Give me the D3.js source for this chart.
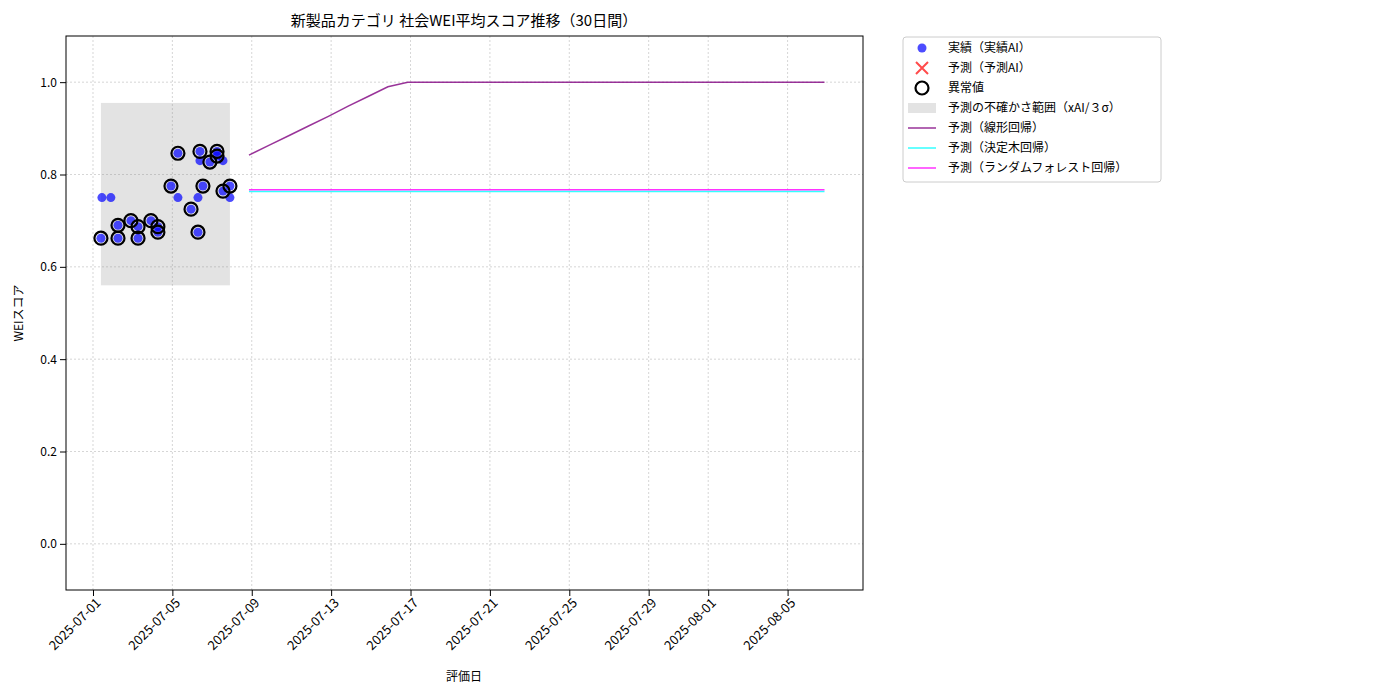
<!DOCTYPE html>
<html><head><meta charset="utf-8">
<script src="https://cdn.jsdelivr.net/npm/d3@7"></script>
<style>body{margin:0;background:#fff;font-family:"Noto Sans CJK JP","DejaVu Sans",sans-serif}</style>
</head><body><svg id="c" width="1400" height="700"></svg>
<script>
// days after 2025-07-01 00:00
var actualDays = [0.4, 0.45, 0.9, 1.26, 1.26, 1.91, 2.27, 2.27, 2.92, 3.27, 3.27, 3.93, 4.28, 4.28, 4.94, 5.29, 5.29, 5.39, 5.39, 5.54, 5.89, 6.25, 6.25, 6.55, 6.55, 6.9, 6.9];
var actualVals = [0.662, 0.75, 0.75, 0.69, 0.662, 0.70, 0.687, 0.662, 0.70, 0.687, 0.675, 0.775, 0.846, 0.75, 0.725, 0.675, 0.75, 0.85, 0.83, 0.775, 0.827, 0.85, 0.84, 0.83, 0.764, 0.775, 0.75];
var outlier = [1, 0, 0, 1, 1, 1, 1, 1, 1, 1, 1, 1, 1, 0, 1, 1, 0, 1, 0, 1, 1, 1, 1, 0, 1, 1, 0];
var bandDays = [0.4, 6.9];
var bandVals = [0.56, 0.955];
var predStart = 7.86;
var linearVals = [0.842, 0.863, 0.884, 0.905, 0.926, 0.948, 0.969, 0.990, 1, 1, 1, 1, 1, 1, 1, 1, 1, 1, 1, 1, 1, 1, 1, 1, 1, 1, 1, 1, 1, 1];
var treeVal = 0.763;
var forestVal = 0.767;
var yTicks = [0.0, 0.2, 0.4, 0.6, 0.8, 1.0];
var xTicks = ["2025-07-01","2025-07-05","2025-07-09","2025-07-13","2025-07-17","2025-07-21","2025-07-25","2025-07-29","2025-08-01","2025-08-05"];

var t0 = new Date(2025, 6, 1);
function dd(d){ return new Date(t0.getTime() + d*864e5); }
var svg = d3.select("#c");
var x = d3.scaleTime().domain([dd(-1.36), dd(38.8)]).range([66, 863]);
var y = d3.scaleLinear().domain([-0.1, 1.1]).range([590, 36]);
var pd = d3.timeParse("%Y-%m-%d");
var pts = actualDays.map((d, i) => ({d: d, v: actualVals[i], o: outlier[i]}));

// grid
svg.append("g").selectAll("line").data(xTicks).join("line")
  .attr("x1", d => x(pd(d))).attr("x2", d => x(pd(d))).attr("y1", 36).attr("y2", 590)
  .attr("stroke", "#ccc").attr("stroke-dasharray", "2,2").attr("stroke-width", 0.8);
svg.append("g").selectAll("line").data(yTicks).join("line")
  .attr("y1", d => y(d)).attr("y2", d => y(d)).attr("x1", 66).attr("x2", 863)
  .attr("stroke", "#ccc").attr("stroke-dasharray", "2,2").attr("stroke-width", 0.8);

// band
svg.append("rect").attr("x", x(dd(bandDays[0]))).attr("width", x(dd(bandDays[1])) - x(dd(bandDays[0])))
  .attr("y", y(bandVals[1])).attr("height", y(bandVals[0]) - y(bandVals[1]))
  .attr("fill", "#808080").attr("opacity", 0.22);

// lines
var predDays = linearVals.map((v, i) => predStart + i);
var line = d3.line().x(d => x(dd(d[0]))).y(d => y(d[1]));
svg.append("path").attr("d", line(predDays.map(d => [d, treeVal]))).attr("stroke", "cyan").attr("fill", "none").attr("stroke-width", 1.5).attr("opacity", 0.8);
svg.append("path").attr("d", line(predDays.map(d => [d, forestVal]))).attr("stroke", "magenta").attr("fill", "none").attr("stroke-width", 1.5).attr("opacity", 0.8);
svg.append("path").attr("d", line(predDays.map((d, i) => [d, linearVals[i]]))).attr("stroke", "purple").attr("fill", "none").attr("stroke-width", 1.5).attr("opacity", 0.8);

// points
svg.append("g").selectAll("circle").data(pts).join("circle")
  .attr("cx", p => x(dd(p.d))).attr("cy", p => y(p.v)).attr("r", 4.5)
  .attr("fill", "blue").attr("opacity", 0.7);
svg.append("g").selectAll("circle").data(pts.filter(p => p.o)).join("circle")
  .attr("cx", p => x(dd(p.d))).attr("cy", p => y(p.v))
  .attr("r", 6.5).attr("fill", "none").attr("stroke", "black").attr("stroke-width", 2.2);

// frame + axes
svg.append("rect").attr("x", 66).attr("y", 36).attr("width", 797).attr("height", 554).attr("fill", "none").attr("stroke", "black");
var xa = svg.append("g").attr("transform", "translate(0,590)")
  .call(d3.axisBottom(x).tickValues(xTicks.map(pd)).tickFormat(d3.timeFormat("%Y-%m-%d")).tickSizeOuter(0));
xa.select(".domain").remove();
xa.attr("font-size", null).attr("font-family", null);
xa.selectAll("text").style("font-size", "13px").attr("fill", "#000").attr("text-anchor", "end")
  .attr("transform", "rotate(-45)").attr("dx", "-0.3em").attr("dy", "0.5em");
var ya = svg.append("g").attr("transform", "translate(66,0)")
  .call(d3.axisLeft(y).tickValues(yTicks).tickFormat(d3.format(".1f")).tickSizeOuter(0));
ya.select(".domain").remove();
ya.attr("font-size", null).attr("font-family", null);
ya.selectAll("text").style("font-size", "12px").attr("fill", "#000");

svg.append("text").attr("x", 464).attr("y", 26).attr("text-anchor", "middle").attr("font-size", 15).text("新製品カテゴリ 社会WEI平均スコア推移（30日間）");
svg.append("text").attr("x", 464).attr("y", 681).attr("text-anchor", "middle").attr("font-size", 12).text("評価日");
svg.append("text").attr("transform", "translate(23,313) rotate(-90)").attr("text-anchor", "middle").attr("font-size", 12).text("WEIスコア");

// legend
var lg = svg.append("g").attr("transform", "translate(903,37)");
lg.append("rect").attr("width", 258).attr("height", 145).attr("rx", 3).attr("fill", "#fff").attr("stroke", "#ccc");
var items = ["実績（実績AI）", "予測（予測AI）", "異常値", "予測の不確かさ範囲（xAI/３σ）", "予測（線形回帰）", "予測（決定木回帰）", "予測（ランダムフォレスト回帰）"];
items.forEach(function(t, i){
  var cy = 11 + i * 20;
  var g = lg.append("g").attr("transform", "translate(0," + cy + ")");
  if (i == 0) g.append("circle").attr("cx", 19).attr("cy", 0).attr("r", 4.5).attr("fill", "blue").attr("opacity", 0.7);
  if (i == 1) { g.append("path").attr("d", "M13,-6L25,6M13,6L25,-6").attr("stroke", "red").attr("stroke-width", 2).attr("opacity", 0.7); }
  if (i == 2) g.append("circle").attr("cx", 19).attr("cy", 0).attr("r", 6.5).attr("fill", "none").attr("stroke", "black").attr("stroke-width", 2.2);
  if (i == 3) g.append("rect").attr("x", 5).attr("y", -5).attr("width", 28).attr("height", 10).attr("fill", "#808080").attr("opacity", 0.22);
  if (i >= 4) g.append("line").attr("x1", 5).attr("x2", 33).attr("stroke", ["purple", "cyan", "magenta"][i - 4]).attr("stroke-width", 1.5).attr("opacity", 0.8);
  g.append("text").attr("x", 45).attr("y", 4).attr("font-size", 12).text(t);
});
</script></body></html>
